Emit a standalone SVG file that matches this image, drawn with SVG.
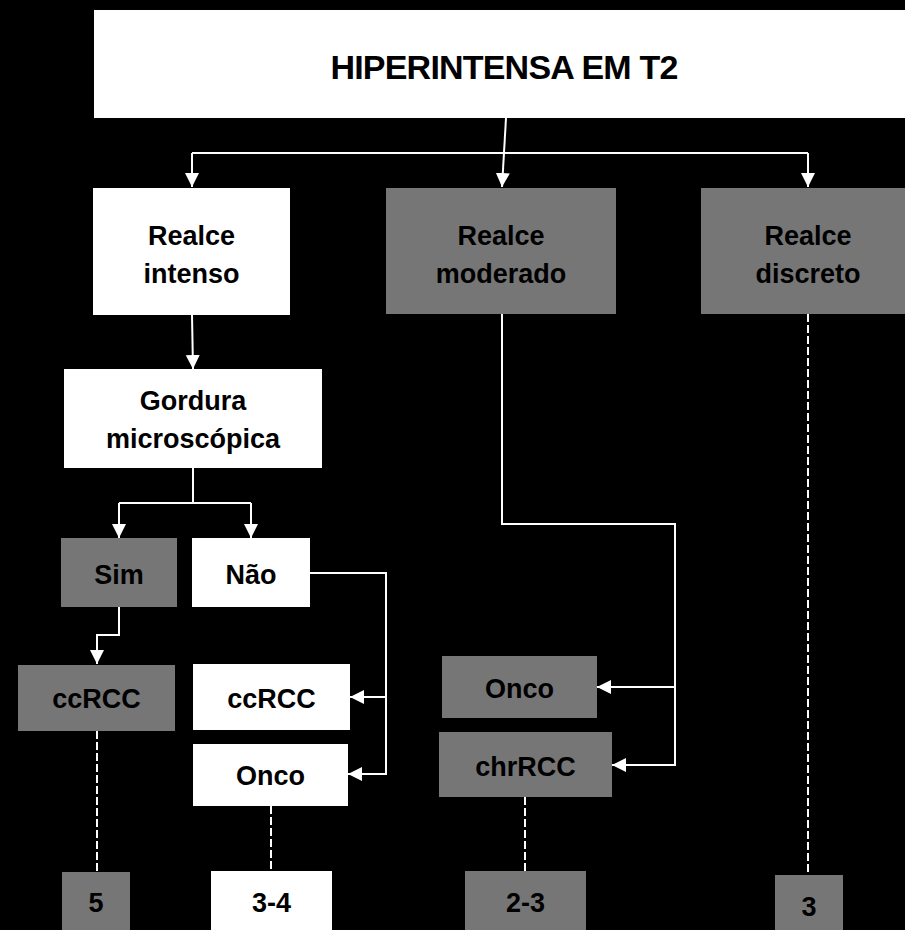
<svg xmlns="http://www.w3.org/2000/svg" width="905" height="930" viewBox="0 0 905 930">
<defs>
<marker id="arr" markerUnits="userSpaceOnUse" markerWidth="15" markerHeight="15" refX="14" refY="7" orient="auto">
<path d="M0,0 L14,7 L0,14 Z" fill="#fff"/>
</marker>
<style>
.w{fill:#fff}
.g{fill:#767676}
text{font-family:"Liberation Sans",Arial,sans-serif;font-weight:bold;font-size:27px;fill:#000;text-anchor:middle}
.ln{fill:none;stroke:#fff;stroke-width:2}
.a{marker-end:url(#arr)}
.d{fill:none;stroke:#fff;stroke-width:2;stroke-dasharray:8 3}
</style>
</defs>
<rect width="905" height="930" fill="#000"/>
<g id="connectors">
<path class="ln a" d="M506,118 L502,187"/>
<path class="ln" d="M192,153 H808"/>
<path class="ln a" d="M192,153 V187"/>
<path class="ln a" d="M808,153 V187"/>
<path class="ln a" d="M192,315 L193,369"/>
<path class="ln" d="M193,468 V503 M119,503 H251"/>
<path class="ln a" d="M119,503 V538"/>
<path class="ln a" d="M251,503 V538"/>
<path class="ln a" d="M119,607 V635 H97 V664"/>
<path class="ln" d="M310,573 H386 V697"/>
<path class="ln a" d="M386,697 H350"/>
<path class="ln a" d="M386,697 V774 H348"/>
<path class="ln a" d="M502,314 V524 H675 V765 H612"/>
<path class="ln a" d="M675,687 H597"/>
<path class="d" d="M97,731 V872"/>
<path class="d" d="M271,806 V871"/>
<path class="d" d="M525,797 V871"/>
<path class="d" d="M808,314 V875"/>
</g>
<g id="title"><rect class="w" x="94" y="10" width="811" height="108"/><text x="504" y="79" style="font-size:34px" letter-spacing="-0.8">HIPERINTENSA EM T2</text></g>
<g id="intenso"><rect class="w" x="93" y="188" width="197" height="127"/><text x="191.5" y="245">Realce</text><text x="191.5" y="283">intenso</text></g>
<g id="moderado"><rect class="g" x="386" y="188" width="230" height="126"/><text x="501" y="245">Realce</text><text x="501" y="283">moderado</text></g>
<g id="discreto"><rect class="g" x="701" y="188" width="204" height="126"/><text x="808" y="245">Realce</text><text x="808" y="283">discreto</text></g>
<g id="gordura"><rect class="w" x="64" y="369" width="258" height="99"/><text x="193" y="410">Gordura</text><text x="193" y="448">microscópica</text></g>
<g id="sim"><rect class="g" x="61" y="538" width="116" height="69"/><text x="119" y="584">Sim</text></g>
<g id="nao"><rect class="w" x="192" y="538" width="118" height="69"/><text x="251" y="584">Não</text></g>
<g id="ccrcc-sim"><rect class="g" x="18" y="665" width="157" height="66"/><text x="96.5" y="708">ccRCC</text></g>
<g id="ccrcc-nao"><rect class="w" x="193" y="664" width="157" height="66"/><text x="271.5" y="708">ccRCC</text></g>
<g id="onco-nao"><rect class="w" x="193" y="744" width="155" height="62"/><text x="270.5" y="785">Onco</text></g>
<g id="onco-mod"><rect class="g" x="442" y="656" width="155" height="62"/><text x="519.5" y="698">Onco</text></g>
<g id="chrrcc"><rect class="g" x="439" y="732" width="173" height="65"/><text x="525.5" y="776">chrRCC</text></g>
<g id="s5"><rect class="g" x="62" y="872" width="68" height="58"/><text x="96" y="912">5</text></g>
<g id="s34"><rect class="w" x="211" y="871" width="121" height="59"/><text x="271.5" y="912">3-4</text></g>
<g id="s23"><rect class="g" x="465" y="871" width="121" height="59"/><text x="525.5" y="912">2-3</text></g>
<g id="s3"><rect class="g" x="775" y="875" width="68" height="55"/><text x="809" y="916">3</text></g>
</svg>
